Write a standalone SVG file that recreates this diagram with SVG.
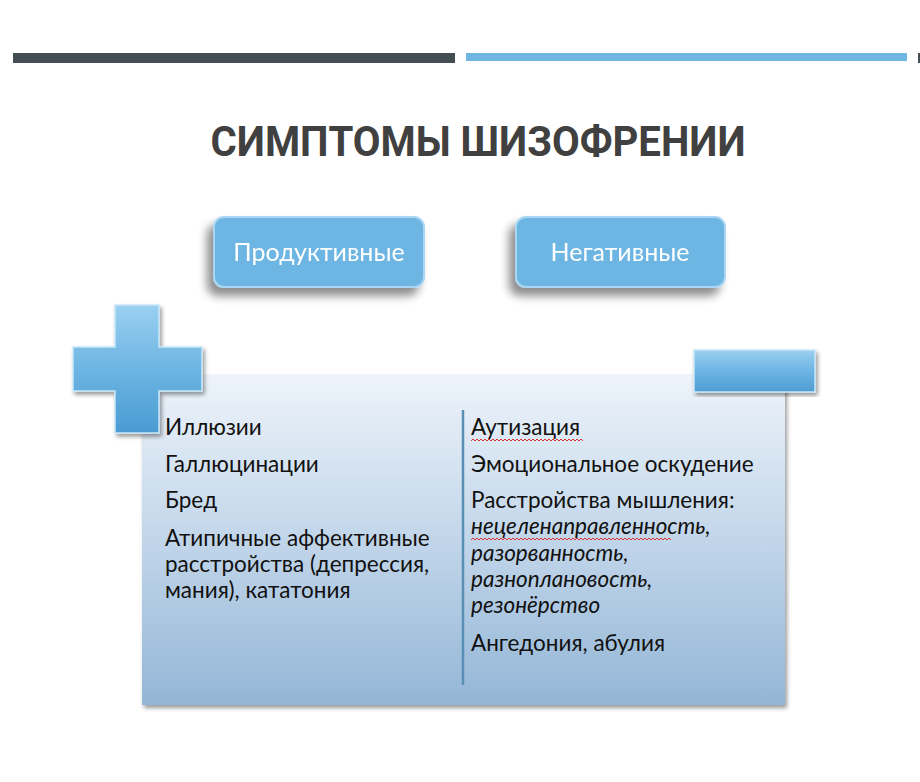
<svg xmlns="http://www.w3.org/2000/svg" width="920" height="782" viewBox="0 0 920 782">
<defs>
<linearGradient id="panel" x1="0" y1="0" x2="0" y2="1">
<stop offset="0" stop-color="#eef4fa"/>
<stop offset="0.5" stop-color="#c2d6ea"/>
<stop offset="1" stop-color="#93b6d6"/>
</linearGradient>
<linearGradient id="cross" x1="0" y1="0" x2="0" y2="1">
<stop offset="0" stop-color="#9bd0f1"/>
<stop offset="0.5" stop-color="#6db5e3"/>
<stop offset="1" stop-color="#4a9bd2"/>
</linearGradient>
<linearGradient id="hbar" x1="0" y1="0" x2="0" y2="1">
<stop offset="0" stop-color="#9bd0f1"/>
<stop offset="0.5" stop-color="#6db5e3"/>
<stop offset="1" stop-color="#4e9dd3"/>
</linearGradient>
<filter id="sh" x="-20%" y="-20%" width="140%" height="160%">
<feGaussianBlur in="SourceAlpha" stdDeviation="5"/>
<feOffset dx="-6" dy="8"/>
<feComponentTransfer><feFuncA type="linear" slope="0.45"/></feComponentTransfer>
<feMerge><feMergeNode/><feMergeNode in="SourceGraphic"/></feMerge>
</filter>
<filter id="sh2" x="-10%" y="-10%" width="120%" height="120%">
<feGaussianBlur in="SourceAlpha" stdDeviation="2"/>
<feOffset dx="2" dy="3"/>
<feComponentTransfer><feFuncA type="linear" slope="0.4"/></feComponentTransfer>
<feMerge><feMergeNode/><feMergeNode in="SourceGraphic"/></feMerge>
</filter>
<style>
.btn{fill:#6db5e2;stroke:#a9d6f2;stroke-width:2}
.btnt{font-family:Lato,"Open Sans",sans-serif;font-size:25px;fill:#ffffff;text-anchor:middle}
.t{font-family:Lato,"Open Sans",sans-serif;font-size:22.5px;fill:#111111}
.i{font-style:italic}
.wave{fill:none;stroke:#e03030;stroke-width:1}
</style>
</defs>
<rect width="920" height="782" fill="#ffffff"/>
<g id="topbars">
<rect x="13" y="53" width="442" height="10" fill="#434f55"/>
<rect x="466" y="53" width="441" height="8" fill="#6fb6e2"/>
<rect x="918" y="53" width="2" height="10" fill="#434f55"/>
</g>
<g id="title">
<text x="478" y="156" text-anchor="middle" font-family="Roboto,'Liberation Sans',sans-serif" font-weight="bold" font-size="43" fill="#404040" textLength="535" lengthAdjust="spacingAndGlyphs">СИМПТОМЫ ШИЗОФРЕНИИ</text>
</g>
<g id="productive" filter="url(#sh)">
<rect class="btn" x="214" y="217" width="210" height="70" rx="10"/>
<text class="btnt" x="319" y="261">Продуктивные</text>
</g>
<g id="negative" filter="url(#sh)">
<rect class="btn" x="516" y="217" width="209" height="70" rx="10"/>
<text class="btnt" x="620" y="261">Негативные</text>
</g>
<g id="panel">
<rect x="142" y="373" width="643" height="332" fill="url(#panel)" filter="url(#sh2)"/>
<line x1="142" y1="373" x2="785" y2="373" stroke="#ffffff" stroke-width="2"/>
<line x1="463" y1="410" x2="463" y2="685" stroke="#5a8fb5" stroke-width="2.5"/>
</g>
<g id="plus" filter="url(#sh2)">
<path d="M115 305 H159 V347 H202 V391 H159 V433 H115 V391 H73 V347 H115 Z" fill="url(#cross)" stroke="#c9e6f8" stroke-width="1.5"/>
</g>
<g id="minus" filter="url(#sh2)">
<rect x="694" y="350" width="121" height="42" fill="url(#hbar)" stroke="#c9e6f8" stroke-width="1.5"/>
</g>
<g id="left-list">
<text class="t" x="165" y="435">Иллюзии</text>
<text class="t" x="165" y="472">Галлюцинации</text>
<text class="t" x="165" y="508">Бред</text>
<text class="t" x="165" y="546">Атипичные аффективные</text>
<text class="t" x="165" y="572">расстройства (депрессия,</text>
<text class="t" x="165" y="598">мания), кататония</text>
</g>
<g id="right-list">
<text class="t" x="471" y="435">Аутизация</text>
<text class="t" x="471" y="472">Эмоциональное оскудение</text>
<text class="t" x="471" y="508">Расстройства мышления:</text>
<text class="t i" x="471" y="534">нецеленаправленность,</text>
<text class="t i" x="471" y="561">разорванность,</text>
<text class="t i" x="471" y="587">разноплановость,</text>
<text class="t i" x="471" y="613">резонёрство</text>
<text class="t" x="471" y="651">Ангедония, абулия</text>
<path class="wave" d="M471 441 l2 -2 l2 2 l2 -2 l2 2 l2 -2 l2 2 l2 -2 l2 2 l2 -2 l2 2 l2 -2 l2 2 l2 -2 l2 2 l2 -2 l2 2 l2 -2 l2 2 l2 -2 l2 2 l2 -2 l2 2 l2 -2 l2 2 l2 -2 l2 2 l2 -2 l2 2 l2 -2 l2 2 l2 -2 l2 2 l2 -2 l2 2 l2 -2 l2 2 l2 -2 l2 2 l2 -2 l2 2 l2 -2 l2 2 l2 -2 l2 2 l2 -2 l2 2 l2 -2 l2 2 l2 -2 l2 2 l2 -2 l2 2 l2 -2 l2 2 l2 -2 l2 2"/>
<path class="wave" d="M471 540 l2 -2 l2 2 l2 -2 l2 2 l2 -2 l2 2 l2 -2 l2 2 l2 -2 l2 2 l2 -2 l2 2 l2 -2 l2 2 l2 -2 l2 2 l2 -2 l2 2 l2 -2 l2 2 l2 -2 l2 2 l2 -2 l2 2 l2 -2 l2 2 l2 -2 l2 2 l2 -2 l2 2 l2 -2 l2 2 l2 -2 l2 2 l2 -2 l2 2 l2 -2 l2 2 l2 -2 l2 2 l2 -2 l2 2 l2 -2 l2 2 l2 -2 l2 2 l2 -2 l2 2 l2 -2 l2 2 l2 -2 l2 2 l2 -2 l2 2 l2 -2 l2 2 l2 -2 l2 2 l2 -2 l2 2 l2 -2 l2 2 l2 -2 l2 2 l2 -2 l2 2 l2 -2 l2 2 l2 -2 l2 2 l2 -2 l2 2 l2 -2 l2 2 l2 -2 l2 2 l2 -2 l2 2 l2 -2 l2 2 l2 -2 l2 2 l2 -2 l2 2 l2 -2 l2 2 l2 -2 l2 2 l2 -2 l2 2 l2 -2 l2 2 l2 -2 l2 2 l2 -2 l2 2 l2 -2 l2 2 l2 -2 l2 2"/>
</g>
</svg>
